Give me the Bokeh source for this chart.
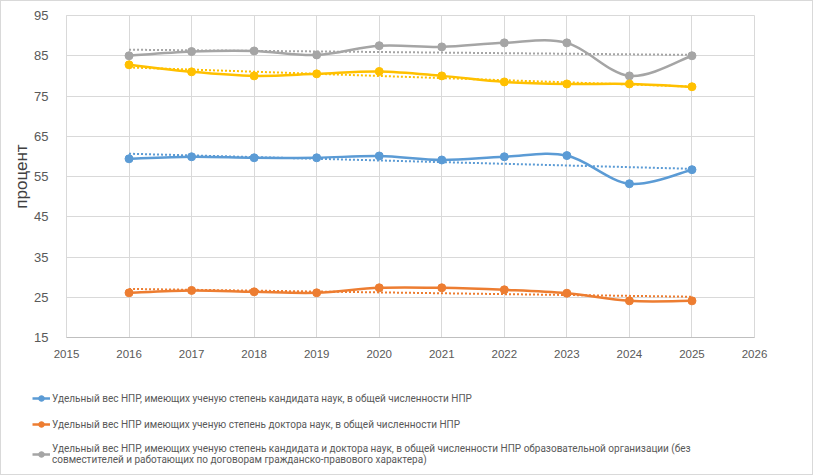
import numpy as np
from bokeh.plotting import figure
from bokeh.layouts import column
from bokeh.models import Legend, LegendItem, FixedTicker, Range1d, ColumnDataSource
from bokeh.embed import file_html
from bokeh.resources import INLINE

years = [2016, 2017, 2018, 2019, 2020, 2021, 2022, 2023, 2024, 2025]
cand = [59.4, 59.9, 59.65, 59.65, 60.1, 59.1, 59.9, 60.2, 53.2, 56.7]
doct = [26.1, 26.7, 26.35, 26.1, 27.35, 27.35, 26.85, 26.0, 24.1, 24.1]
total = [85.0, 86.05, 86.2, 85.2, 87.5, 87.2, 88.2, 88.2, 80.0, 85.0]
other = [82.75, 81.0, 80.0, 80.5, 81.1, 80.0, 78.5, 78.0, 78.0, 77.3]

x_ticks = list(range(2015, 2027))
y_ticks = [15, 25, 35, 45, 55, 65, 75, 85, 95]

labels = [
    "Удельный вес НПР, имеющих ученую степень кандидата наук, в общей численности НПР",
    "Удельный вес НПР имеющих ученую степень доктора наук, в общей численности НПР",
    "Удельный вес НПР, имеющих ученую степень кандидата и доктора наук, в общей численности НПР образовательной организации (без\nсовместителей и работающих по договорам гражданско-правового характера)",
]
colors = ["#5b9bd5", "#ed7d31", "#a5a5a5", "#ffc000"]

p = figure(frame_width=688, frame_height=322, output_backend="svg", toolbar_location=None,
           x_range=Range1d(2015, 2026), y_range=Range1d(15, 95),
           min_border_left=65, min_border_right=58, min_border_top=14, min_border_bottom=30)
p.frame_align = False
p.outline_line_color = "#d9d9d9"
p.background_fill_color = "white"
p.border_fill_color = "white"

p.xaxis.ticker = FixedTicker(ticks=x_ticks)
p.yaxis.ticker = FixedTicker(ticks=y_ticks)
p.xgrid.grid_line_color = "#d9d9d9"
p.ygrid.grid_line_color = "#d9d9d9"
for ax in (p.xaxis, p.yaxis):
    ax.major_tick_line_color = None
    ax.minor_tick_line_color = None
    ax.major_label_text_color = "#595959"
    ax.major_label_text_font = "Liberation Sans"
p.xaxis.axis_line_color = "#bfbfbf"
p.yaxis.axis_line_color = "#d9d9d9"
p.xaxis.major_label_text_font_size = "11.5px"
p.yaxis.major_label_text_font_size = "13px"
p.xaxis.major_label_standoff = 6
p.yaxis.major_label_standoff = 12
p.yaxis.axis_label = "процент"
p.yaxis.axis_label_text_font = "Liberation Sans"
p.yaxis.axis_label_text_font_size = "17px"
p.yaxis.axis_label_text_font_style = "normal"
p.yaxis.axis_label_text_color = "#404040"
p.yaxis.axis_label_standoff = 0


def smooth(xs, ys):
    xs = np.asarray(xs, float)
    ys = np.asarray(ys, float)
    n = len(xs)
    d = dict(x0=[], y0=[], x1=[], y1=[], cx0=[], cy0=[], cx1=[], cy1=[])
    for i in range(n - 1):
        pm = max(i - 1, 0)
        pp = min(i + 2, n - 1)
        d["x0"].append(xs[i]); d["y0"].append(ys[i])
        d["x1"].append(xs[i + 1]); d["y1"].append(ys[i + 1])
        d["cx0"].append(xs[i] + (xs[i + 1] - xs[pm]) / 6)
        d["cy0"].append(ys[i] + (ys[i + 1] - ys[pm]) / 6)
        d["cx1"].append(xs[i + 1] - (xs[pp] - xs[i]) / 6)
        d["cy1"].append(ys[i + 1] - (ys[pp] - ys[i]) / 6)
    return ColumnDataSource(d)


series = [cand, doct, total, other]
for k, ys in enumerate(series):
    c = colors[k]
    a, b = np.polyfit(years, ys, 1)
    tx = [years[0], years[-1]]
    p.line(tx, [a * t + b for t in tx], line_color=c, line_width=2, line_dash="2 2")
    p.bezier(x0="x0", y0="y0", x1="x1", y1="y1", cx0="cx0", cy0="cy0", cx1="cx1", cy1="cy1",
             source=smooth(years, ys), line_color=c, line_width=2.5)
    p.scatter(years, ys, size=8, marker="circle", fill_color=c, line_color=c)

# legend panel (its own plot; sample renderers sit outside its visible range)
lg = figure(width=811, height=107, output_backend="svg", toolbar_location=None,
            x_range=Range1d(0, 1), y_range=Range1d(0, 1), min_border=0)
lg.frame_align = False
lg.axis.visible = False
lg.grid.visible = False
lg.outline_line_color = None
items = []
for k in range(3):
    c = colors[k]
    ln = lg.line([5, 6], [5, 6], line_color=c, line_width=2.5)
    mk = lg.scatter([5], [5], size=7, marker="circle", fill_color=c, line_color=c)
    items.append(LegendItem(label=labels[k], renderers=[ln, mk]))
legend = Legend(items=items, location=(31, 9), orientation="vertical",
                label_text_font="Roboto", label_text_font_size="10px",
                label_text_color="#595959", glyph_width=18, glyph_height=14,
                label_standoff=2, label_height=14, spacing=12, padding=0, margin=0,
                background_fill_alpha=0, border_line_color=None,
                label_text_line_height=1.5)
lg.add_layout(legend, "center")

layout = column(p, lg, spacing=0, styles={"border": "1px solid #d9d9d9"})
open("out.html", "w").write(file_html(layout, INLINE))
